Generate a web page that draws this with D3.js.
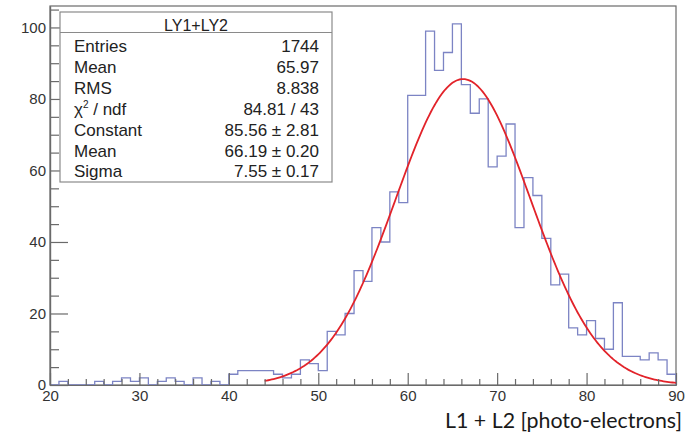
<!DOCTYPE html>
<html>
<head>
<meta charset="utf-8">
<script src="https://cdn.jsdelivr.net/npm/d3@7"></script>
<style>
  body { margin: 0; background: #fff; }
  svg text { font-family: "Liberation Sans", Arial, sans-serif; }
  .axis path, .axis line { stroke: #6a6a6a; stroke-width: 1.2; }
  .axis text { fill: #333; }
</style>
</head>
<body>
<script>
// histogram: 1 unit bins starting at 20
const binStart = 20;
const binWidth = 1;
const counts = [
  0, 1, 0, 0, 0, 1, 0, 1, 2, 1,      // 20-29
  2, 0, 1, 2, 1, 0, 2, 0, 1, 0,      // 30-39
  3, 4, 4, 4, 4, 3, 2, 3, 7, 6,      // 40-49
  4, 15, 14, 20, 32, 29, 44, 40, 54, 51, // 50-59
  81, 81, 99, 88, 93, 101, 84, 76, 80, 61, // 60-69
  64, 73, 44, 58, 53, 41, 28, 31, 16, 14, // 70-79
  18, 13, 10, 23, 8, 8, 7, 9, 7, 3      // 80-89
];

// gaussian fit result (from stats box)
const fitConstant = 85.56;
const fitMean = 66.19;
const fitSigma = 7.55;
const fitRange = [44, 90];

const statsTitle = "LY1+LY2";
const statsLabels = ["Entries", "Mean", "RMS", "chi2", "Constant", "Mean", "Sigma"];
const statsValues = ["1744", "65.97", "8.838", "84.81 / 43", "85.56 \u00b1 2.81", "66.19 \u00b1 0.20", "7.55 \u00b1 0.17"];

const xTicks = [20, 30, 40, 50, 60, 70, 80, 90];
const yTicks = [0, 20, 40, 60, 80, 100];
const xTitle = "L1 + L2 [photo-electrons]";

const W = 694, H = 435;
const svg = d3.select("body").append("svg")
    .attr("width", W)
    .attr("height", H);

const x = d3.scaleLinear().domain([20, 90]).range([50, 676]);
const y = d3.scaleLinear().domain([0, 106]).range([385, 6]);

// frame
svg.append("rect")
    .attr("x", x(20)).attr("y", y(106))
    .attr("width", x(90) - x(20)).attr("height", y(0) - y(106))
    .attr("fill", "none").attr("stroke", "#6a6a6a").attr("stroke-width", 1.2);

// histogram as step line
let pts = [[binStart, 0]];
counts.forEach(function(c, i){
    const lo = binStart + i * binWidth;
    pts.push([lo, c]);
    pts.push([lo + binWidth, c]);
});
pts.push([binStart + counts.length * binWidth, 0]);

const line = d3.line()
    .x(function(d){ return x(d[0]); })
    .y(function(d){ return y(d[1]); });

svg.append("path")
    .attr("d", line(pts))
    .attr("fill", "none")
    .attr("stroke", "#7c84c4")
    .attr("stroke-width", 1.3);

// fit curve
const fitPts = d3.range(fitRange[0], fitRange[1] + 0.001, 0.2).map(function(v){
    const z = (v - fitMean) / fitSigma;
    return [v, fitConstant * Math.exp(-0.5 * z * z)];
});
svg.append("path")
    .attr("d", line(fitPts))
    .attr("fill", "none")
    .attr("stroke", "#e2232a")
    .attr("stroke-width", 1.8);

// axes
const xMinor = d3.range(20, 91, 2).filter(function(v){ return v % 10 !== 0; });
const yMinor = d3.range(0, 106, 5).filter(function(v){ return v % 20 !== 0; });

svg.append("g").attr("class", "axis")
    .attr("transform", "translate(0," + y(0) + ")")
    .call(d3.axisBottom(x).tickValues(xMinor).tickFormat("").tickSize(-6).tickSizeOuter(0));
svg.append("g").attr("class", "axis")
    .attr("transform", "translate(0," + y(0) + ")")
    .call(d3.axisBottom(x).tickValues(xTicks).tickSize(-12).tickSizeOuter(0).tickPadding(5))
    .selectAll("text").attr("font-size", 15);

svg.append("g").attr("class", "axis")
    .attr("transform", "translate(" + x(20) + ",0)")
    .call(d3.axisLeft(y).tickValues(yMinor).tickFormat("").tickSize(-9).tickSizeOuter(0));
svg.append("g").attr("class", "axis")
    .attr("transform", "translate(" + x(20) + ",0)")
    .call(d3.axisLeft(y).tickValues(yTicks).tickSize(-18).tickSizeOuter(0).tickPadding(4))
    .selectAll("text").attr("font-size", 15).attr("x", -4);

// x title
svg.append("text")
    .attr("x", 682).attr("y", 428)
    .attr("text-anchor", "end")
    .attr("font-size", 22)
    .style("font-family", "Lato, 'Noto Sans', sans-serif")
    .attr("fill", "#1a1a1a")
    .attr("textLength", 237)
    .attr("lengthAdjust", "spacingAndGlyphs")
    .text(xTitle);

// stats box
const box = svg.append("g");
box.append("rect")
    .attr("x", 60).attr("y", 12)
    .attr("width", 272).attr("height", 170)
    .attr("fill", "#fff").attr("stroke", "#8a8a8a").attr("stroke-width", 1.2);
box.append("line")
    .attr("x1", 60).attr("x2", 332).attr("y1", 32.5).attr("y2", 32.5)
    .attr("stroke", "#8a8a8a").attr("stroke-width", 1.2);
box.append("text")
    .attr("x", 196).attr("y", 31)
    .attr("text-anchor", "middle").attr("font-size", 16).attr("fill", "#222")
    .text(statsTitle);

statsLabels.forEach(function(lab, i){
    const by = 52 + i * 20.9;
    const t = box.append("text")
        .attr("x", 74).attr("y", by)
        .attr("font-size", 17).attr("fill", "#222");
    if (lab === "chi2") {
        t.append("tspan").text("\u03c7");
        t.append("tspan").attr("font-size", 10).attr("dy", -7).text("2");
        t.append("tspan").attr("dy", 7).text(" / ndf");
    } else {
        t.text(lab);
    }
    box.append("text")
        .attr("x", 319).attr("y", by)
        .attr("text-anchor", "end")
        .attr("font-size", 17).attr("fill", "#222")
        .text(statsValues[i]);
});
</script>
</body>
</html>
